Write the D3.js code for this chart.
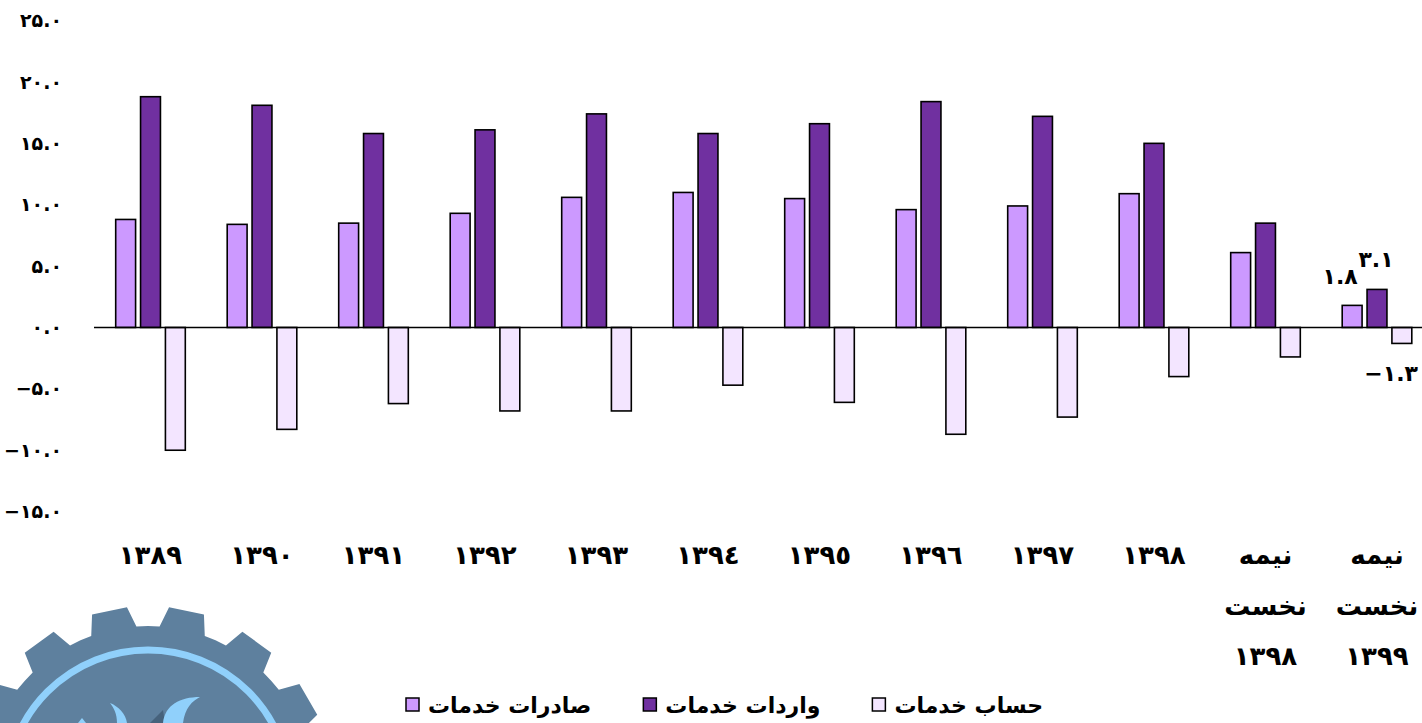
<!DOCTYPE html>
<html lang="fa">
<head>
<meta charset="UTF-8">
<title>Services account</title>
<script src="https://d3js.org/d3.v7.min.js"></script>
<style>
    body { margin: 0; background: #fff; }
    svg { display: block; }
    text { font-family: "DejaVu Sans", sans-serif; font-weight: bold; fill: #000; }
</style>
</head>
<body>
<div id="chart"></div>
<script>
    // data (billion dollars)
    const categories = ["۱۳۸۹", "۱۳۹۰", "۱۳۹۱", "۱۳۹۲", "۱۳۹۳", "۱۳۹٤", "۱۳۹٥", "۱۳۹٦", "۱۳۹۷", "۱۳۹۸",
        "نیمه نخست ۱۳۹۸", "نیمه نخست ۱۳۹۹"];
    const seriesNames = ["صادرات خدمات", "واردات خدمات", "حساب خدمات"];
    const exportsVals = [8.8, 8.4, 8.5, 9.3, 10.6, 11.0, 10.5, 9.6, 9.9, 10.9, 6.1, 1.8];
    const importsVals = [18.8, 18.1, 15.8, 16.1, 17.4, 15.8, 16.6, 18.4, 17.2, 15.0, 8.5, 3.1];
    const balanceVals = [-10.0, -8.3, -6.2, -6.8, -6.8, -4.7, -6.1, -8.7, -7.3, -4.0, -2.4, -1.3];
    const yTicks = [-15, -10, -5, 0, 5, 10, 15, 20, 25];
    const colors = ["#cc99ff", "#7030a0", "#f3e5ff"];

    const W = 1422, H = 723;
    const seriesVals = [exportsVals, importsVals, balanceVals];

    const faDigits = s => s.replace(/[0-9]/g, d => "۰۱۲۳۴۵۶۷۸۹"[+d]);
    const fmt = v => faDigits(d3.format(".1f")(v));

    const svg = d3.select("#chart").append("svg")
        .attr("width", W).attr("height", H);

    // ---- logo (gear) in the lower left corner ----
    const logo = svg.append("g").attr("transform", "translate(148,792)");
    const gearPts = [];
    const nTeeth = 15, rBody = 166, rTooth = 186;
    for (let i = 0; i < nTeeth; i++) {
        const a = (12 + i * 24) * Math.PI / 180;
        const base = 8 * Math.PI / 180, tip = 5.5 * Math.PI / 180;
        gearPts.push([a - 12 * Math.PI / 180, rBody]);
        gearPts.push([a - base, rBody]);
        gearPts.push([a - tip, rTooth]);
        gearPts.push([a + tip, rTooth]);
        gearPts.push([a + base, rBody]);
    }
    logo.append("path")
        .attr("d", d3.lineRadial().angle(d => d[0]).radius(d => d[1]).curve(d3.curveLinearClosed)(gearPts))
        .attr("fill", "#5e809e");
    logo.append("circle").attr("r", 142)
        .attr("fill", "none").attr("stroke", "#90d0fb").attr("stroke-width", 7);
    logo.append("path").attr("d", "M2,-69 L15,-82 L17,-69 Z").attr("fill", "#46627c");
    logo.append("path").attr("d", "M15,-69 C17,-87 32,-95 52,-95 C44,-91 37,-84 35,-69 Z").attr("fill", "#90d0fb");
    logo.append("path").attr("d", "M-38,-89 C-30,-86 -22,-78 -21,-69 L-31,-69 C-31,-78 -34,-84 -38,-89 Z").attr("fill", "#90d0fb");
    logo.append("path").attr("d", "M-70,-69 L-66,-74 L-62,-69 Z").attr("fill", "#90d0fb");

    // ---- scales ----
    const y = d3.scaleLinear().domain([-15, 25]).range([511.6, 20.6]);
    const x0 = d3.scaleBand().domain(categories).range([94.75, 94.75 + 12 * 111.5]).padding(0);
    const x1 = d3.scaleBand().domain(seriesNames).range([20.95, 20.95 + 69.6]).paddingInner(0.2);

    // y axis labels only
    const yAxis = svg.append("g").attr("transform", "translate(65,0)")
        .call(d3.axisLeft(y).tickValues(yTicks).tickSize(0).tickPadding(3).tickFormat(fmt));
    yAxis.select(".domain").remove();
    yAxis.selectAll("text").attr("font-size", 19).attr("font-family", "DejaVu Sans, sans-serif")
        .attr("font-weight", "bold").attr("direction", "ltr");

    // bars
    const groups = svg.append("g").selectAll("g")
        .data(categories).join("g")
        .attr("transform", d => `translate(${x0(d)},0)`);
    groups.selectAll("rect")
        .data((d, i) => seriesNames.map((s, k) => ({ s, k, v: seriesVals[k][i] })))
        .join("rect")
        .attr("x", d => x1(d.s))
        .attr("width", x1.bandwidth())
        .attr("y", d => y(Math.max(0, d.v)))
        .attr("height", d => Math.abs(y(d.v) - y(0)))
        .attr("fill", d => colors[d.k])
        .attr("stroke", "#000").attr("stroke-width", 1.6);

    // zero line
    svg.append("line")
        .attr("x1", 94).attr("x2", W)
        .attr("y1", y(0)).attr("y2", y(0))
        .attr("stroke", "#000").attr("stroke-width", 1.6);

    // data labels on the last group
    const last = categories[categories.length - 1];
    const li = categories.length - 1;
    const lbl = svg.append("g").attr("font-size", 22).attr("direction", "ltr");
    lbl.append("text").attr("text-anchor", "middle")
        .attr("x", x0(last) + x1(seriesNames[0]) + x1.bandwidth() / 2 - 12)
        .attr("y", y(exportsVals[li]) - 21).text(fmt(exportsVals[li]));
    lbl.append("text").attr("text-anchor", "middle")
        .attr("x", x0(last) + x1(seriesNames[1]) + x1.bandwidth() / 2 - 1)
        .attr("y", y(importsVals[li]) - 22).text(fmt(importsVals[li]));
    lbl.append("text").attr("text-anchor", "end")
        .attr("x", W - 4)
        .attr("y", y(balanceVals[li]) + 38).text(fmt(balanceVals[li]));

    // x category labels (wrapped words)
    const xl = svg.append("g").attr("font-size", 26).attr("text-anchor", "middle");
    categories.forEach(c => {
        c.split(" ").forEach((w, j) => {
            xl.append("text")
                .attr("x", x0(c) + x0.bandwidth() / 2)
                .attr("y", 564 + j * 50.5)
                .text(w);
        });
    });

    // legend
    const leg = svg.append("g").attr("font-size", 22);
    let lx = 406;
    seriesNames.forEach((s, k) => {
        leg.append("rect").attr("x", lx).attr("y", 698).attr("width", 13).attr("height", 13)
            .attr("fill", colors[k]).attr("stroke", "#000").attr("stroke-width", 1.5);
        const t = leg.append("text").attr("x", lx + 22).attr("y", 713).text(s);
        lx += 22 + t.node().getComputedTextLength() + 52;
    });
</script>
</body>
</html>
